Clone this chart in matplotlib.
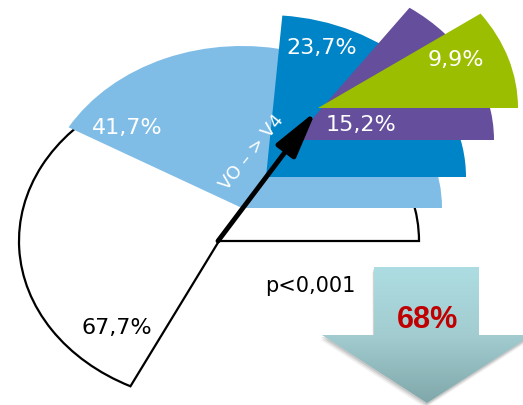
import numpy as np
import matplotlib
matplotlib.use("Agg")
from matplotlib import pyplot as plt
from matplotlib.patches import Wedge, Polygon

# ---------- data ----------
labels = ["67,7%", "41,7%", "23,7%", "15,2%", "9,9%"]
shares = [67.7, 41.7, 23.7, 15.2, 9.9]          # percent of patients
colors = ["white", "#7FBDE7", "#0084C8", "#654E9C", "#9BBF00"]
reduction = 68                                   # % drop V0 -> V4
p_text = "p<0,001"

# ---------- layout (pixel positions of the picture) ----------
W, H = 523, 405
K = 0.81            # vertical squash of the pie
R = 200             # radius in px
centres = [(219, 241), (242, 208), (266, 177), (294, 140), (318, 108)]
label_pos = [(117, 328), (127, 128), (322, 48), (361, 125), (456, 60)]


def px(x, y):
    # pixel coords (y down) -> data coords (y up, squashed)
    return x, (H - y) / K


fig = plt.figure(figsize=(W / 100, H / 100), dpi=100)
ax = fig.add_axes([0, 0, 1, 1])
ax.axis("off")

# _____ wedges _______
for i, (v, c) in enumerate(zip(shares, colors)):
    cx, cy = px(*centres[i])
    if i == 0:
        w = Wedge((cx, cy), R, 0, v * 3.6, facecolor="white",
                  edgecolor="black", lw=1.6, zorder=1)
    else:
        w = Wedge((cx, cy), R, 0, v * 3.6, facecolor=c,
                  edgecolor="none", zorder=1 + i)
    ax.add_patch(w)
    tc = "black" if i == 0 else "white"
    ax.text(*px(*label_pos[i]), labels[i], color=tc, fontsize=16,
            ha="center", va="center", zorder=10)

# _____ V0 -> V4 arrow _______
ax.annotate("", xy=px(316, 111), xytext=px(218, 241),
            arrowprops=dict(arrowstyle="-|>,head_length=1.6,head_width=0.4",
                            lw=3.5, color="black", mutation_scale=18,
                            shrinkA=0, shrinkB=0), zorder=12)
ax.text(*px(252, 152), "VO – > V4", color="white", fontsize=13,
        rotation=51, ha="center", va="center", zorder=11)

ax.text(*px(310, 286), p_text, fontsize=15, ha="center", va="center")

# _____ big down arrow with gradient _______
arrow_px = [(374, 267), (479, 267), (479, 335), (532, 335), (427, 403),
            (322, 335), (374, 335)]
for d, a in [(5, 0.08), (3.5, 0.12), (2, 0.18)]:
    shadow = Polygon([px(x - d * 0.3, y + d) for x, y in arrow_px],
                     closed=True, facecolor="#606060", alpha=a,
                     edgecolor="none", zorder=3)
    ax.add_patch(shadow)
big = Polygon([px(x, y) for x, y in arrow_px], closed=True,
              facecolor="none", edgecolor="none", zorder=4)
ax.add_patch(big)
grad = np.linspace(0, 1, 256).reshape(-1, 1)
cmap = matplotlib.colors.LinearSegmentedColormap.from_list(
    "g", ["#ADDDE2", "#A2CCD0", "#80A8AB"])
x0, y0 = px(322, 403)
x1, y1 = px(532, 267)
im = ax.imshow(grad, cmap=cmap, extent=[x0, x1, y0, y1], aspect="auto",
               origin="upper", zorder=4)
im.set_clip_path(big)
ax.set_xlim(0, W)
ax.set_ylim(0, H / K)

ax.text(*px(427, 320), f"{reduction}%", color="#C00000", fontsize=22,
        fontweight="bold", family="Liberation Sans", ha="center",
        va="center", zorder=6)

fig.savefig("out.png", dpi=100)
